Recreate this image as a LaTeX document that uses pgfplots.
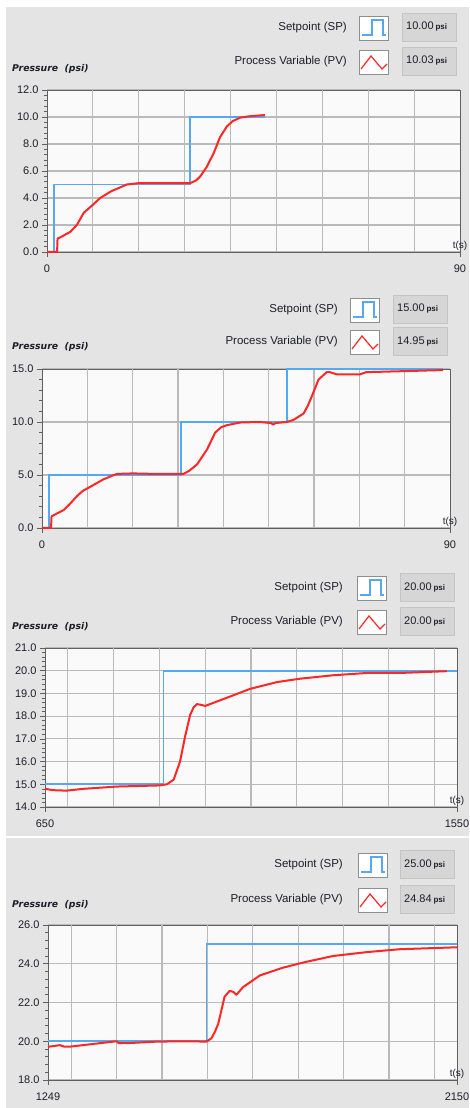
\documentclass[border=0pt]{standalone}
\usepackage{pgfplots}
\pgfplotsset{compat=1.18}
\usepackage{fontspec}
\setmainfont{Liberation Sans}
\newfontfamily\pressfont{DejaVu Sans}
\definecolor{bggrey}{HTML}{E4E4E4}
\definecolor{plotbg}{HTML}{FAFAFA}
\definecolor{gridgrey}{HTML}{BABABA}
\definecolor{axisgrey}{HTML}{606060}
\definecolor{txt}{HTML}{1E1E2A}
\definecolor{spblue}{HTML}{55A8F2}
\definecolor{pvred}{HTML}{FF2626}
\definecolor{boxgrey}{HTML}{8E8E8E}
\definecolor{valgrey}{HTML}{D6D6D6}
\definecolor{valedge}{HTML}{C4C4C4}

\pgfplotsset{panel/.style={
  scale only axis, anchor=south west,
  axis background/.style={fill=plotbg},
  axis line style={draw=axisgrey, line width=0.8pt},
  tick align=outside, tick pos=left,
  tick style={draw=axisgrey, line width=0.6pt},
  major tick length=5pt, minor tick length=3pt,
  minor y tick num=4,
  ymajorgrids,
  major grid style={gridgrey, line width=1.2pt},
  extra x tick style={grid=major, major tick length=0pt},
  xticklabel style={yshift=-4pt},
  ticklabel style={font=\fontsize{11}{11}\selectfont, text=txt},
  /pgf/number format/.cd, fixed, fixed zerofill, precision=1, assume math mode=true,
  /pgfplots/.cd,
  clip=false,
}}
\pgfplotsset{sp/.style={spblue, line width=1.8pt, no marks},
  pv/.style={pvred, line width=2pt, no marks, line join=round}}

\newcommand\tslabel{\node[anchor=south, font=\fontsize{10}{10}\selectfont, text=txt, inner sep=1pt] at (rel axis cs:1,0) {t(s)};}

% #1 Ysp #2 Ypv #3 xr #4 xi #5 xv #6 spval #7 pvval #8 Ypress
\newcommand\head[8]{%
 \node[anchor=east, font=\fontsize{11.5}{12}\selectfont, text=txt, inner sep=0pt] at (#3,#1) {Setpoint (SP)};
 \node[anchor=east, font=\fontsize{11.5}{12}\selectfont, text=txt, inner sep=0pt] at (#3,#2) {Process Variable (PV)};
 \draw[fill=white, draw=boxgrey, line width=0.8pt] (#4,#1-12) rectangle ++(29,24);
 \draw[spblue, line width=1.2pt] (#4+3,#1-7) -- ++(10,0) -- ++(0,15) -- ++(11,0) -- ++(0,-15) -- ++(3,0);
 \draw[fill=white, draw=boxgrey, line width=0.8pt] (#4,#2-12) rectangle ++(29,24);
 \draw[pvred, line width=1.2pt] (#4+2,#2-7) -- ++(10,13) -- ++(11,-13) -- ++(5,5);
 \draw[fill=valgrey, draw=valedge, line width=1pt] (#5,#1-14) rectangle ++(54,28);
 \node[anchor=west, text=txt, inner sep=0pt, font=\fontsize{11}{11}\selectfont] at (#5+4,#1+1) {#6\,{\fontsize{8}{8}\selectfont\bfseries psi}};
 \draw[fill=valgrey, draw=valedge, line width=1pt] (#5,#2-14) rectangle ++(54,28);
 \node[anchor=west, text=txt, inner sep=0pt, font=\fontsize{11}{11}\selectfont] at (#5+4,#2+1) {#7\,{\fontsize{8}{8}\selectfont\bfseries psi}};
 \node[anchor=west, inner sep=0pt, text=txt, font=\pressfont\bfseries\itshape\fontsize{9.3}{10}\selectfont] at (12,#8) {Pressure~ (psi)};
}

\begin{document}
\begin{tikzpicture}[x=1pt,y=1pt]
\useasboundingbox (0,0) rectangle (469,1108);
\fill[white] (0,0) rectangle (469,1108);
\fill[bggrey] (6,0) rectangle (469,1101);
\draw[white, line width=1.2pt] (6,271) -- (469,271);

% ---------- Panel 1 ----------
\head{1080}{1046}{347}{359}{402}{10.00}{10.03}{1039}
\begin{axis}[panel, at={(47pt,856pt)}, width=413pt, height=162pt,
  xmin=0, xmax=90, ymin=0, ymax=12, ytick={0,2,...,12},
  xtick={0,90}, xticklabels={0,90},
  extra x ticks={10,20,...,80}, extra x tick labels={,,,,,,,,}]
\addplot[sp] coordinates {(0,0)(1.6,0)(1.6,5)(31.1,5)(31.1,10)(47.5,10)};
\addplot[pv] coordinates {(0,0)(2.2,0)(2.3,1.0)(3,1.1)(5.1,1.5)(6.5,2.0)(8,2.9)(10,3.5)(11.6,4.0)(14,4.5)(17.4,5.0)(20,5.1)(25,5.1)(31.2,5.1)(32.5,5.3)(33.4,5.6)(34.8,6.3)(36.3,7.3)(37.7,8.5)(39.2,9.3)(40.5,9.7)(42.1,9.95)(44,10.05)(47.5,10.15)};
\tslabel
\end{axis}

% ---------- Panel 2 ----------
\head{798}{766}{338}{350}{393}{15.00}{14.95}{761}
\begin{axis}[panel, at={(42pt,580pt)}, width=408pt, height=159pt,
  xmin=0, xmax=90, ymin=0, ymax=15, ytick={0,5,10,15},
  xtick={0,90}, xticklabels={0,90},
  extra x ticks={10,20,...,80}, extra x tick labels={,,,,,,,,}]
\addplot[sp] coordinates {(0,0)(1.5,0)(1.5,5)(30.7,5)(30.7,10)(54,10)(54,15)(88.5,15)};
\addplot[pv] coordinates {(0,0)(2,0)(2.1,1.1)(3,1.3)(4.8,1.7)(6,2.2)(7.7,3.0)(9,3.5)(10.7,3.9)(13.6,4.6)(16.5,5.1)(20,5.15)(25,5.1)(31.2,5.1)(32.5,5.4)(34.2,6.0)(36.4,7.4)(37.3,8.2)(38.2,9.0)(39.5,9.5)(40.8,9.7)(43.7,9.95)(48,10.0)(50.5,9.9)(51,9.75)(51.5,9.9)(54,10.0)(55.5,10.2)(57.7,10.8)(58.6,11.5)(59.5,12.4)(61,14.0)(62.8,14.7)(63.5,14.7)(65,14.5)(70.2,14.5)(71.5,14.7)(80,14.8)(88.5,14.9)};
\tslabel
\end{axis}

% ---------- Panel 3 ----------
\head{520}{486}{343}{357}{400}{20.00}{20.00}{481}
\begin{axis}[panel, at={(45pt,301pt)}, width=412pt, height=159pt,
  xmin=650, xmax=1550, ymin=14, ymax=21, ytick={14,15,...,21},
  xtick={650,1550}, xticklabels={650,1550},
  extra x ticks={700,800,...,1500}, extra x tick labels={,,,,,,,,,}]
\addplot[sp] coordinates {(650,15)(908.7,15)(908.7,20)(1550,20)};
\addplot[pv] coordinates {(650,14.8)(668,14.74)(697,14.72)(734,14.8)(807,14.9)(901,14.95)(916,15.0)(931,15.2)(945,16.0)(956,17.1)(967,18.05)(975,18.4)(982,18.53)(990,18.5)(1000,18.45)(1033,18.7)(1098,19.2)(1157,19.5)(1208,19.65)(1280,19.8)(1353,19.9)(1426,19.9)(1528,19.98)};
\tslabel
\end{axis}

% ---------- Panel 4 ----------
\head{243}{208}{343}{358}{400}{25.00}{24.84}{203}
\begin{axis}[panel, at={(48pt,28pt)}, width=409pt, height=155pt,
  xmin=1249, xmax=2150, ymin=18, ymax=26, ytick={18,20,...,26},
  xtick={1249,2150}, xticklabels={1249,2150},
  extra x ticks={1300,1400,...,2100}, extra x tick labels={,,,,,,,,,}]
\addplot[sp] coordinates {(1249,20)(1598,20)(1598,25)(2150,25)};
\addplot[pv] coordinates {(1249,19.72)(1262,19.75)(1275,19.8)(1285,19.72)(1297,19.72)(1363,19.9)(1400,20.0)(1405,19.9)(1422,19.9)(1488,19.98)(1554,20.0)(1598,19.98)(1609,20.15)(1617,20.5)(1624,20.9)(1631,21.6)(1638,22.3)(1649,22.6)(1657,22.55)(1664,22.4)(1679,22.8)(1716,23.4)(1767,23.8)(1818,24.1)(1877,24.4)(1951,24.6)(2024,24.75)(2150,24.85)};
\tslabel
\end{axis}
\end{tikzpicture}
\end{document}
